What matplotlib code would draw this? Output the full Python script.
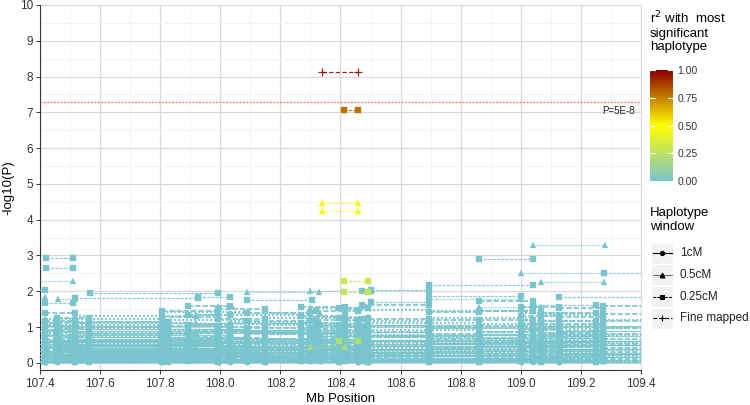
import matplotlib
matplotlib.use("Agg")
import matplotlib.pyplot as plt
from matplotlib.colors import LinearSegmentedColormap
from matplotlib.patches import Rectangle
import numpy as np

plt.rcParams['font.family'] = ['Liberation Sans', 'DejaVu Sans']

# ---- data -------------------------------------------------------------
# highlighted haplotypes (r2 > 0)
hi_window = ["Fine mapped", "0.25cM", "0.5cM", "0.5cM", "0.25cM", "0.25cM", "0.25cM", "0.5cM"]
hi_start = [108.338, 108.411, 108.337, 108.337, 108.413, 108.413, 108.395, 108.30]
hi_end = [108.458, 108.458, 108.458, 108.458, 108.490, 108.490, 108.457, 108.415]
hi_logp = [8.14, 7.07, 4.48, 4.25, 2.30, 1.97, 0.62, 0.45]
hi_r2 = [1.00, 0.78, 0.52, 0.48, 0.30, 0.28, 0.20, 0.18]

# upper teal haplotypes (r2 ~ 0)
up_window = ["0.25cM", "0.25cM", "0.5cM", "0.25cM", "0.5cM", "0.25cM", "0.5cM", "0.25cM",
             "0.25cM", "0.25cM", "0.5cM", "0.5cM", "0.25cM", "0.5cM", "0.25cM", "0.25cM",
             "0.25cM", "0.25cM", "0.25cM", "0.5cM", "0.5cM", "0.25cM", "0.5cM", "0.25cM",
             "0.5cM", "0.25cM", "0.25cM", "0.5cM"]
up_start = [107.421, 107.421, 107.38, 107.38, 107.38, 107.417, 107.46, 107.517,
            107.927, 107.566, 107.993, 108.09, 108.09, 108.30, 108.47, 108.50,
            108.693, 108.693, 108.86, 109.039, 109.0, 109.277, 109.067, 108.50,
            108.693, 109.04, 109.127, 108.86]
up_end = [107.51, 107.51, 107.51, 107.417, 107.416, 107.51, 107.517, 107.927,
          108.033, 107.993, 108.04, 108.327, 108.305, 108.41, 108.50, 108.693,
          109.042, 109.0, 109.042, 109.28, 109.277, 109.45, 109.277, 108.693,
          109.0, 109.25, 109.45, 109.067]
up_logp = [2.93, 2.65, 2.29, 2.04, 1.85, 1.68, 1.78, 1.80,
           1.85, 1.95, 1.60, 1.99, 1.76, 2.02, 2.02, 2.03,
           2.18, 1.88, 2.90, 3.30, 2.52, 2.52, 2.27, 1.70,
           1.78, 1.62, 1.85, 1.55]

# dense teal blocks: window, start, end, -log10(P) values
blk_window = ["1cM"] * 13 + ["0.5cM"] * 15 + ["0.25cM"] * 18
blk_start = [107.38, 107.417, 107.455, 107.517, 107.805, 107.993, 108.09, 108.333, 108.457,
             108.693, 108.86, 109.04, 109.127,
             107.417, 107.455, 107.517, 107.805, 107.92, 108.033, 108.15, 108.30, 108.415,
             108.493, 108.693, 108.86, 109.0, 109.067, 109.25,
             107.417, 107.455, 107.38, 107.563, 107.805, 107.893, 107.993, 108.09, 108.267,
             108.32, 108.395, 108.47, 108.693, 108.86, 109.0, 109.067, 109.127, 109.275]
blk_end = [107.993, 108.033, 108.09, 108.15, 108.457, 108.493, 108.693, 108.86, 109.0,
           109.127, 109.275, 109.45, 109.45,
           107.805, 107.827, 107.92, 108.09, 108.267, 108.333, 108.415, 108.493, 108.693,
           108.86, 109.04, 109.067, 109.25, 109.275, 109.45,
           107.517, 107.563, 107.455, 107.827, 107.993, 108.033, 108.15, 108.30, 108.415,
           108.457, 108.493, 108.693, 108.86, 109.04, 109.127, 109.25, 109.275, 109.45]
blk_logp = [
    [0.01, 0.05, 0.14, 0.22, 0.32, 0.41, 0.52, 0.63, 0.88],
    [0.03, 0.12, 0.18, 0.26, 0.34, 0.46, 0.57, 0.79, 1.02],
    [0.02, 0.08, 0.16, 0.29, 0.38, 0.50, 0.61, 0.72, 0.95],
    [0.03, 0.09, 0.18, 0.27, 0.36, 0.46, 0.68],
    [0.02, 0.10, 0.20, 0.31, 0.42, 0.55, 0.66, 0.83, 1.12],
    [0.01, 0.06, 0.15, 0.25, 0.35, 0.44, 0.57, 0.66, 0.91],
    [0.04, 0.14, 0.22, 0.30, 0.37, 0.48, 0.60, 0.85],
    [0.04, 0.11, 0.20, 0.29, 0.38, 0.48, 0.61, 0.74, 1.05],
    [0.02, 0.09, 0.18, 0.27, 0.39, 0.52, 0.64, 0.77],
    [0.02, 0.13, 0.23, 0.33, 0.43, 0.56, 0.69, 0.97],
    [0.04, 0.11, 0.21, 0.33, 0.46, 0.58, 0.70, 0.81],
    [0.01, 0.07, 0.17, 0.28, 0.38, 0.49, 0.62, 0.75, 1.03],
    [0.03, 0.15, 0.26, 0.39, 0.51, 0.62, 0.90],
    [0.03, 0.16, 0.30, 0.47, 0.61, 0.84, 1.06, 1.22],
    [0.07, 0.21, 0.38, 0.54, 0.73, 0.96, 1.15],
    [0.10, 0.26, 0.42, 0.58, 0.80, 1.10, 1.30],
    [0.05, 0.19, 0.35, 0.51, 0.70, 0.93, 1.20, 1.42],
    [0.08, 0.24, 0.40, 0.62, 0.86, 1.08, 1.35],
    [0.04, 0.17, 0.33, 0.49, 0.67, 0.89, 1.13, 1.38],
    [0.11, 0.28, 0.45, 0.64, 0.82, 1.05, 1.25],
    [0.06, 0.22, 0.37, 0.56, 0.76, 0.99, 1.28, 1.52],
    [0.09, 0.25, 0.41, 0.60, 0.79, 1.01, 1.18, 1.48],
    [0.03, 0.18, 0.34, 0.53, 0.71, 0.92, 1.12],
    [0.07, 0.23, 0.39, 0.57, 0.78, 1.00, 1.24, 1.46],
    [0.12, 0.29, 0.46, 0.65, 0.87, 1.09],
    [0.05, 0.20, 0.36, 0.52, 0.74, 0.95, 1.16, 1.40],
    [0.10, 0.27, 0.44, 0.63, 0.84, 1.07, 1.33],
    [0.04, 0.19, 0.35, 0.55, 0.77, 0.98, 1.21],
    [0.02, 0.10, 0.19, 0.27, 0.36, 0.45, 0.55, 0.66, 0.78, 0.90, 1.04, 1.18, 1.38],
    [0.06, 0.14, 0.23, 0.32, 0.41, 0.50, 0.61, 0.72, 0.85, 0.98, 1.12, 1.26],
    [0.04, 0.15, 0.28, 0.44, 0.59, 0.75, 0.93, 1.10],
    [0.03, 0.12, 0.22, 0.33, 0.47, 0.62, 0.80, 1.00, 1.15],
    [0.08, 0.17, 0.26, 0.38, 0.52, 0.68, 0.83, 1.03, 1.27, 1.45],
    [0.05, 0.13, 0.24, 0.35, 0.46, 0.58, 0.71, 0.89, 1.07, 1.33, 1.58],
    [0.02, 0.11, 0.21, 0.31, 0.43, 0.56, 0.69, 0.86, 1.01, 1.23, 1.50],
    [0.07, 0.16, 0.27, 0.39, 0.53, 0.66, 0.81, 0.97, 1.16, 1.40],
    [0.04, 0.13, 0.22, 0.32, 0.42, 0.54, 0.67, 0.80, 0.94, 1.11, 1.31, 1.55],
    [0.09, 0.18, 0.28, 0.37, 0.48, 0.60, 0.73, 0.88, 1.03, 1.20, 1.44],
    [0.03, 0.12, 0.21, 0.30, 0.40, 0.51, 0.63, 0.76, 0.91, 1.06, 1.24, 1.53],
    [0.06, 0.15, 0.25, 0.35, 0.46, 0.59, 0.72, 0.87, 1.04, 1.22, 1.62],
    [0.02, 0.11, 0.20, 0.30, 0.41, 0.53, 0.66, 0.82, 0.99, 1.19, 1.41],
    [0.05, 0.14, 0.24, 0.34, 0.45, 0.57, 0.70, 0.86, 1.02, 1.21, 1.45, 1.72],
    [0.08, 0.17, 0.27, 0.38, 0.50, 0.62, 0.76, 0.92, 1.09, 1.30, 1.57],
    [0.03, 0.13, 0.23, 0.33, 0.44, 0.56, 0.69, 0.84, 1.00, 1.18, 1.38],
    [0.06, 0.16, 0.26, 0.37, 0.49, 0.61, 0.75, 0.90, 1.08, 1.27, 1.52],
    [0.04, 0.12, 0.22, 0.31, 0.42, 0.54, 0.67, 0.81, 0.97, 1.16, 1.36, 1.58],
]

window_labels = ["1cM", "0.5cM", "0.25cM", "Fine mapped"]
threshold = 7.3
# -----------------------------------------------------------------------

STYLE = {
    "1cM": ("-", "o", 4.0),
    "0.5cM": ((0, (1, 0.8)), "^", 4.6),
    "0.25cM": ((0, (2.5, 1.0)), "s", 4.2),
    "Fine mapped": ((0, (3.5, 1.8)), "+", 5.5),
}
LW = {"1cM": 0.9, "0.5cM": 1.6, "0.25cM": 1.5, "Fine mapped": 1.0}

cmap = LinearSegmentedColormap.from_list("r2", ["#7AC5CD", "#FFFF00", "#8B0000"])


def draw_seg(ax, x0, x1, y, window, r2, z, lw=None):
    ls, mk, ms = STYLE[window]
    col = cmap(r2)
    ax.plot([x0, x1], [y, y], linestyle=ls, lw=lw or LW[window], color=col, alpha=0.85, zorder=z)
    ax.plot([x0, x1], [y, y], linestyle="none", marker=mk, ms=ms, color=col,
            mew=0.9 if mk == "+" else 0.2, alpha=0.85 if mk == "+" else 1, zorder=z + 0.5)


fig = plt.figure(figsize=(7.5, 4.05), dpi=100)
ax = fig.add_axes([40 / 750, 1 - 370 / 405, 601 / 750, 365 / 405])

for w, s, e, vals in zip(blk_window, blk_start, blk_end, blk_logp):
    for v in vals:
        draw_seg(ax, s, e, v, w, 0.0, 3)
for w, s, e, v in zip(up_window, up_start, up_end, up_logp):
    draw_seg(ax, s, e, v, w, 0.0, 3, lw=0.9)
order = np.argsort(hi_r2)
for i in order:
    draw_seg(ax, hi_start[i], hi_end[i], hi_logp[i], hi_window[i], hi_r2[i], 5, lw=0.9)

ax.axhline(threshold, color="#FF6B6B", lw=0.9, ls=(0, (1.5, 1.2)), zorder=6)
ax.text(109.38, threshold - 0.25, "P=5E-8", ha="right", va="center", fontsize=7, color="#222222")

ax.set_xlim(107.4, 109.4)
ax.set_ylim(-0.2, 10)
ax.set_xticks(np.arange(107.4, 109.41, 0.2))
ax.set_xticklabels(["%.1f" % t for t in np.arange(107.4, 109.41, 0.2)])
ax.set_yticks(range(0, 11))
ax.set_xticks(np.arange(107.5, 109.4, 0.2), minor=True)
ax.set_yticks(np.arange(0.5, 10, 1), minor=True)
ax.grid(which="major", color="#D9D9D9", lw=0.9, zorder=0)
ax.grid(which="minor", color="#F2F2F2", lw=0.6, zorder=0)
ax.set_axisbelow(True)
ax.tick_params(which="major", labelsize=8.5, colors="#333333", length=3, width=0.7)
ax.tick_params(which="minor", length=0)
ax.tick_params(axis="x", pad=3)
ax.tick_params(axis="y", pad=2)
for sp in ["left", "bottom"]:
    ax.spines[sp].set_color("#333333")
    ax.spines[sp].set_linewidth(0.8)
ax.spines["top"].set_visible(False)
ax.spines["right"].set_color("#E0E0E0")
ax.set_xlabel("Mb Position", fontsize=9.5, labelpad=2)
ax.set_ylabel("-log10(P)", fontsize=9.5, labelpad=4)

# colour bar legend
cax = fig.add_axes([650 / 750, 1 - 183 / 405, 23 / 750, 115 / 405])
grad = np.linspace(0, 1, 256).reshape(-1, 1)
cax.imshow(grad, aspect="auto", cmap=cmap, origin="lower", extent=[0, 1, 0, 1])
for t in [0, 0.25, 0.5, 0.75, 1.0]:
    cax.plot([0, 0.2], [t, t], color="white", lw=0.8)
    cax.plot([0.8, 1], [t, t], color="white", lw=0.8)
cax.set_xlim(0, 1)
cax.set_ylim(-0.02, 1.02)
cax.set_xticks([])
cax.yaxis.tick_right()
cax.set_yticks([0, 0.25, 0.5, 0.75, 1.0])
cax.set_yticklabels(["0.00", "0.25", "0.50", "0.75", "1.00"])
cax.tick_params(length=0, labelsize=7.5, colors="#333333", pad=3)
for sp in cax.spines.values():
    sp.set_visible(False)
fig.text(650 / 750, 1 - 10 / 405, "r$^2$ with  most\nsignificant\nhaplotype",
         ha="left", va="top", fontsize=9.5, linespacing=1.15)

# window legend
lax = fig.add_axes([0, 0, 1, 1])
lax.set_xlim(0, 750)
lax.set_ylim(405, 0)
lax.axis("off")
lax.text(650, 207, "Haplotype\nwindow", ha="left", va="top", fontsize=9.5, linespacing=1.2)
for k, lab in enumerate(window_labels):
    yc = 253 + k * 21.8
    lax.add_patch(Rectangle((651, yc - 10.5), 22, 21, facecolor="#F2F2F2", edgecolor="white", lw=0.8))
    ls, mk, ms = STYLE[lab]
    lax.plot([652.5, 671.5], [yc, yc], linestyle=ls, lw=0.8, color="black")
    lax.plot([662], [yc], marker=mk, ms=ms * 0.75, color="black", mew=0.8)
    lax.text(680, yc, lab, ha="left", va="center", fontsize=8.5, color="#222222")

fig.savefig("out.png", dpi=100)
